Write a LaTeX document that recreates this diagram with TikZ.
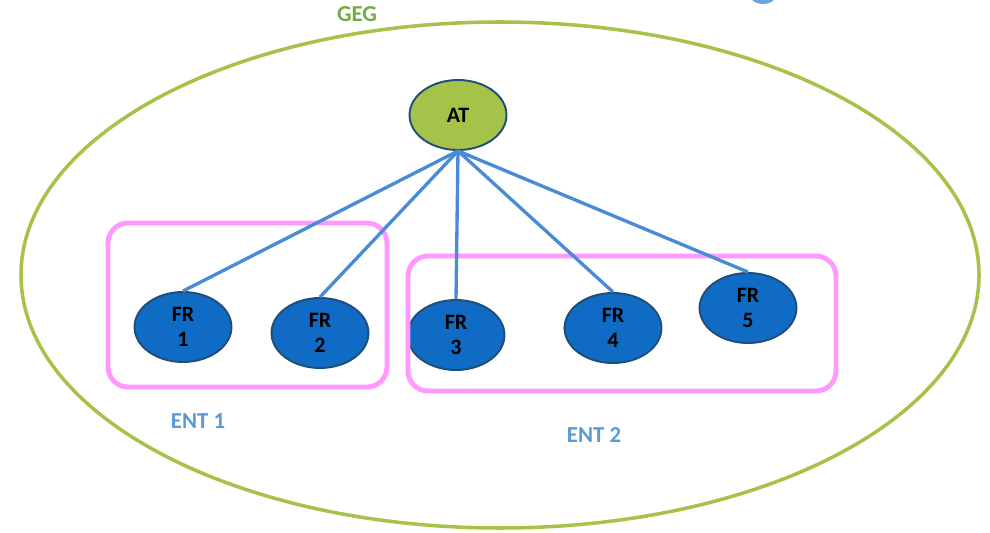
\documentclass[tikz,border=0pt]{standalone}
\usepackage{fontspec}
\setmainfont{Carlito}
\usetikzlibrary{shapes.geometric}

\definecolor{gegGreen}{HTML}{A5C249}
\definecolor{gegText}{HTML}{70AD47}
\definecolor{frBlue}{HTML}{0F6BC3}
\definecolor{rimBlue}{HTML}{1F4E79}
\definecolor{linkBlue}{HTML}{4A8BD6}
\definecolor{entText}{HTML}{5B9BD5}
\definecolor{entPink}{HTML}{FF99FF}

\begin{document}
\begin{tikzpicture}[x=0.02cm, y=-0.02cm,
    % Styles
    root/.style={ellipse, draw=rimBlue, fill=gegGreen, line width=1.1pt, minimum width=1.94cm, minimum height=1.4cm, inner sep=0pt, font=\fontsize{12.5}{14}\selectfont\bfseries},
    branch/.style={ellipse, draw=rimBlue, fill=frBlue, line width=1.1pt, minimum width=1.94cm, minimum height=1.4cm, inner sep=0pt, align=center, font=\fontsize{12.5}{14.5}\selectfont\bfseries},
    link/.style={linkBlue, line width=1.9pt},
    entity/.style={draw=entPink, line width=2.8pt, rounded corners=0.4cm},
    tag/.style={font=\fontsize{13}{15}\selectfont\bfseries},
]
% Frame
\clip (0,0) rectangle (990,533);
\useasboundingbox (0,0) rectangle (990,533);

% Outer group
\draw[gegGreen, line width=2pt] (500,275) ellipse [x radius=479, y radius=253];
\node[tag, gegText] (geg) at (357,14) {GEG};

% Cut-off shape at the top edge
\fill[entText!90!white] (763,-3) ellipse [x radius=12, y radius=7];

% Root
\node[root] (at-root) at (458,115) {AT};

% Branches
\node[branch] (fr1) at (183,327) {FR\\1};
\node[branch] (fr2) at (320,333) {FR\\2};
\node[branch] (fr3) at (456,335) {FR\\3};
\node[branch] (fr4) at (613,328) {FR\\4};
\node[branch] (fr5) at (748,308) {FR\\5};

% Entity boxes
\draw[entity] (108,223) rectangle (387,387);
\draw[entity] (408,256) rectangle (836,391);
\node[tag, entText] (ent1) at (198,421) {ENT 1};
\node[tag, entText] (ent2) at (594,435) {ENT 2};

% Links
\draw[link] (at-root.south) -- (fr1.north);
\draw[link] (at-root.south) -- (fr2.north);
\draw[link] (at-root.south) -- (fr3.north);
\draw[link] (at-root.south) -- (fr4.north);
\draw[link] (at-root.south) -- (fr5.north);

\end{tikzpicture}
\end{document}
